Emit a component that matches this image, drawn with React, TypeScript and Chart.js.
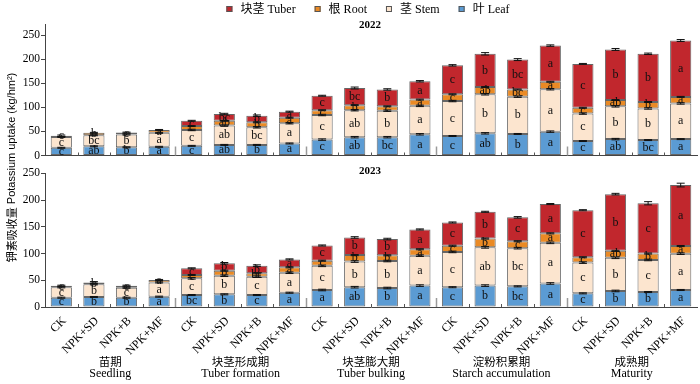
import React, { useEffect, useRef } from 'react';
import { Chart, registerables } from 'chart.js';

Chart.register(...registerables);

// ---------- data ----------
const treatments = ['CK', 'NPK+SD', 'NPK+B', 'NPK+MF'];
const stagesCn = ['苗期', '块茎形成期', '块茎膨大期', '淀粉积累期', '成熟期'];
const stagesEn = ['Seedling', 'Tuber formation', 'Tuber bulking', 'Starch accumulation', 'Maturity'];
const categories = stagesEn.flatMap(() => treatments);
const yTicks = [0, 50, 100, 150, 200, 250];

// 2022
const leaf2022 = [16, 19, 17, 18, 20, 22, 22, 25, 33, 38, 38, 44, 40.5, 46, 44.7, 49.5, 30, 34, 32, 34];
const stem2022 = [22.5, 23, 26.5, 29, 33, 40, 36.5, 42, 51, 56, 55, 59, 72.5, 81, 77.3, 88, 57, 68, 65.6, 74];
const root2022 = [2.5, 5, 4, 6, 8, 10, 10.3, 11.5, 10, 10.5, 9, 13, 14, 15, 15, 15.5, 12, 13, 13.4, 13.6];
const tuber2022 = [0, 0, 0, 0, 11, 14, 13.8, 12.5, 30, 35.5, 35, 38, 60, 69, 62, 75, 91, 105, 100, 117];

// 2023
const leaf2023 = [17.4, 18.7, 17.4, 19.3, 22.4, 23.7, 22.4, 26.7, 31.8, 37, 35.5, 40, 37, 40, 38.6, 44, 25.5, 30, 28, 31.8];
const stem2023 = [19.4, 23.7, 18.6, 26.7, 31.2, 34.8, 34.3, 37.4, 45.2, 48, 50.5, 56, 66, 71.5, 71.4, 76, 57.5, 62, 60, 67.9];
const root2023 = [3, 3.6, 3.8, 4.5, 6.2, 9.4, 6.3, 10.1, 9.6, 12, 10.6, 12, 11.6, 16.5, 13, 17.7, 10, 13, 12, 14.3];
const tuber2023 = [0, 0, 0, 0, 12.5, 13.8, 14.3, 14.8, 28.4, 33, 30.4, 37, 43.4, 50, 44.6, 54.8, 88, 106, 94, 114];

// error bars (SE)
const errLeaf2022 = [1, 1, 1, 1, 1, 1, 1, 1, 1.5, 1.5, 1.5, 1.5, 1, 1.5, 1, 1.5, 1, 1.5, 1, 1];
const errStem2022 = [1, 1, 1, 1, 1.5, 1.5, 1.5, 1.5, 1.5, 1.5, 1.5, 1.5, 1.5, 1.5, 1.5, 1.5, 1.5, 1.5, 1.5, 1.5];
const errRoot2022 = [1.5, 1, 1, 1, 1, 1, 1, 1, 1, 1, 1, 1, 1, 1, 1, 1, 1, 1, 1, 1];
const errTuber2022 = [0, 0, 0, 0, 1, 1.5, 1.5, 1, 1, 2, 1.5, 1.5, 1.5, 2.5, 2, 1.5, 1, 2, 1.5, 2];
const errLeaf2023 = [1, 1, 1, 1, 1, 1, 1, 1, 1.5, 1.5, 1.5, 1.5, 1, 1.5, 1, 1.5, 1, 1.5, 1, 1];
const errStem2023 = [1, 1, 1, 1, 1.5, 1.5, 1.5, 1.5, 1.5, 1.5, 1.5, 1.5, 1.5, 1.5, 1.5, 1.5, 1.5, 1.5, 1.5, 1.5];
const errRoot2023 = [1, 1.5, 1, 1, 1, 1, 1, 1, 1, 1, 1, 1, 1, 1, 1, 1, 1, 1, 1, 1];
const errTuber2023 = [0, 0, 0, 0, 1, 1.5, 1.5, 1, 1, 1.5, 1.5, 1, 1, 1, 1.5, 1, 1, 1.5, 3, 3.5];

// significance letters
const letLeaf2022 = ['c', 'ab', 'b', 'a', 'c', 'ab', 'b', 'a', 'c', 'ab', 'bc', 'a', 'c', 'ab', 'b', 'a', 'c', 'ab', 'bc', 'a'];
const letStem2022 = ['c', 'bc', 'b', 'a', 'c', 'ab', 'bc', 'a', 'c', 'ab', 'b', 'a', 'c', 'b', 'b', 'a', 'c', 'b', 'b', 'a'];
const letRoot2022 = ['c', 'b', 'c', 'a', 'c', 'ab', 'b', 'a', 'c', 'b', 'c', 'a', 'c', 'ab', 'bc', 'a', 'c', 'ab', 'b', 'a'];
const letTuber2022 = ['', '', '', '', 'c', 'bc', 'b', 'a', 'c', 'bc', 'b', 'a', 'c', 'b', 'bc', 'a', 'c', 'b', 'b', 'a'];
const letLeaf2023 = ['c', 'b', 'b', 'a', 'bc', 'b', 'c', 'a', 'a', 'ab', 'b', 'a', 'c', 'b', 'bc', 'a', 'c', 'b', 'b', 'a'];
const letStem2023 = ['c', 'b', 'c', 'a', 'c', 'b', 'c', 'a', 'c', 'b', 'b', 'a', 'c', 'ab', 'bc', 'a', 'c', 'b', 'c', 'a'];
const letRoot2023 = ['c', 'b', 'c', 'a', 'c', 'b', 'bc', 'a', 'c', 'b', 'b', 'a', 'c', 'b', 'c', 'a', 'c', 'ab', 'b', 'a'];
const letTuber2023 = ['', '', '', '', 'c', 'b', 'b', 'a', 'c', 'b', 'b', 'a', 'c', 'b', 'c', 'a', 'c', 'b', 'c', 'a'];

// ---------- style ----------
const C_LEAF = '#5B9BD3';
const C_STEM = '#FCE5CF';
const C_ROOT = '#EA8A25';
const C_TUBER = '#C1272D';
const C_EDGE = '#666666';
const C_AXIS = '#444444';
const SERIF = "'Liberation Serif', 'Times New Roman', 'Noto Sans CJK SC', serif";
const CJK = "'Noto Sans CJK SC', sans-serif";
const SANS = "'Liberation Sans', Arial, sans-serif";

function makeDatasets(leaf: number[], stem: number[], root: number[], tuber: number[]) {
  const base = [
    { label: '叶 Leaf', data: leaf, backgroundColor: C_LEAF },
    { label: '茎 Stem', data: stem, backgroundColor: C_STEM },
    { label: '根 Root', data: root, backgroundColor: C_ROOT },
    { label: '块茎 Tuber', data: tuber, backgroundColor: C_TUBER },
  ];
  return base.map((d) => ({
    ...d,
    borderColor: C_EDGE,
    borderWidth: (c: any) => (c.raw ? 1 : 0),
    borderSkipped: false,
    barPercentage: 0.65,
    categoryPercentage: 1,
  }));
}

function annotPlugin(letters: string[][], errs: number[][], title: string, titleY: number) {
  return {
    id: 'annot',
    afterDraw(chart: any) {
      const ctx = chart.ctx;
      const ys = chart.scales.y;
      const xs = chart.scales.x;
      const ppu = Math.abs(ys.getPixelForValue(0) - ys.getPixelForValue(1));
      ctx.save();
      // inward x ticks
      const baseY = ys.getPixelForValue(0);
      for (let i = 0; i < categories.length - 1; i++) {
        const x = Math.round((xs.getPixelForValue(i) + xs.getPixelForValue(i + 1)) / 2) + 0.5;
        const group = (i + 1) % 4 === 0;
        ctx.strokeStyle = group ? '#9a9a9a' : '#555';
        ctx.lineWidth = group ? 1.5 : 1;
        ctx.beginPath();
        ctx.moveTo(x, baseY);
        ctx.lineTo(x, baseY - (group ? 9 : 3));
        ctx.stroke();
      }
      chart.data.datasets.forEach((ds: any, di: number) => {
        const meta = chart.getDatasetMeta(di);
        meta.data.forEach((el: any, i: number) => {
          const v = ds.data[i];
          if (!v) return;
          // error bar
          const e = errs[di][i] * ppu;
          if (e > 0) {
            ctx.strokeStyle = '#111';
            ctx.lineWidth = 1;
            ctx.beginPath();
            ctx.moveTo(el.x, el.y - e);
            ctx.lineTo(el.x, el.y + e);
            ctx.moveTo(el.x - 4, el.y - e);
            ctx.lineTo(el.x + 4, el.y - e);
            ctx.moveTo(el.x - 4, el.y + e);
            ctx.lineTo(el.x + 4, el.y + e);
            ctx.stroke();
          }
          const txt = letters[di][i];
          if (txt) {
            ctx.fillStyle = '#111';
            ctx.font = `12px ${SERIF}`;
            ctx.textAlign = 'center';
            ctx.textBaseline = 'middle';
            ctx.fillText(txt, el.x, (el.y + el.base) / 2);
          }
        });
      });
      // panel title
      ctx.fillStyle = '#000';
      ctx.font = `bold 11px ${SERIF}`;
      ctx.textAlign = 'center';
      ctx.textBaseline = 'middle';
      ctx.fillText(title, 370, titleY);
      ctx.restore();
    },
  };
}

const legendPlugin = {
  id: 'customLegend',
  afterDraw(chart: any) {
    const ctx = chart.ctx;
    const items = chart.data.datasets.slice().reverse();
    ctx.save();
    ctx.font = `12px ${SERIF}`;
    const box = 6;
    const gapBoxText = 8;
    const gapItems = 19;
    const widths = items.map((d: any) => box + gapBoxText + ctx.measureText(d.label).width);
    const total = widths.reduce((a: number, b: number) => a + b, 0) + gapItems * (items.length - 1);
    let x = 368 - total / 2;
    const y = 9;
    items.forEach((d: any, k: number) => {
      ctx.fillStyle = d.backgroundColor;
      ctx.fillRect(x, y - box / 2, box, box);
      ctx.strokeStyle = '#555';
      ctx.lineWidth = 1;
      ctx.strokeRect(x + 0.5, y - box / 2 + 0.5, box - 1, box - 1);
      ctx.fillStyle = '#000';
      ctx.textAlign = 'left';
      ctx.textBaseline = 'middle';
      ctx.fillText(d.label, x + box + gapBoxText, y + 0.5);
      x += widths[k] + gapItems;
    });
    ctx.restore();
  },
};

const bottomExtras = {
  id: 'bottomExtras',
  afterDraw(chart: any) {
    const ctx = chart.ctx;
    const xs = chart.scales.x;
    ctx.save();
    ctx.fillStyle = '#000';
    ctx.textAlign = 'center';
    ctx.textBaseline = 'middle';
    stagesEn.forEach((en, g) => {
      const cx = (xs.getPixelForValue(g * 4 + 1) + xs.getPixelForValue(g * 4 + 2)) / 2;
      ctx.font = `11.5px ${CJK}`;
      ctx.fillText(stagesCn[g], cx, 361.5);
      ctx.font = `12px ${SERIF}`;
      ctx.fillText(en, cx, 374);
    });
    // y-axis title spanning both panels
    ctx.translate(12, 167.5);
    ctx.rotate(-Math.PI / 2);
    const cn = '钾素吸收量';
    const en = ' Potassium uptake (kg/hm²)';
    ctx.font = `11px ${CJK}`;
    const w1 = ctx.measureText(cn).width;
    ctx.font = `11px ${SANS}`;
    const w2 = ctx.measureText(en).width;
    const x0 = -(w1 + w2) / 2;
    ctx.textAlign = 'left';
    ctx.font = `11px ${CJK}`;
    ctx.fillText(cn, x0, 0);
    ctx.font = `11px ${SANS}`;
    ctx.fillText(en, x0 + w1, 0);
    ctx.restore();
  },
};

function yScale(max: number) {
  return {
    stacked: true,
    min: 0,
    max,
    afterBuildTicks: (s: any) => {
      s.ticks = yTicks.map((v) => ({ value: v }));
    },
    afterFit: (s: any) => {
      s.width = 45;
    },
    ticks: { color: '#000', font: { family: SERIF, size: 11.5 }, padding: 1 },
    grid: { drawOnChartArea: false, tickLength: 4, color: C_AXIS },
    border: { display: true, color: C_AXIS },
  };
}

export default function App() {
  const topRef = useRef<HTMLCanvasElement | null>(null);
  const botRef = useRef<HTMLCanvasElement | null>(null);

  useEffect(() => {
    const top = new Chart(topRef.current as HTMLCanvasElement, {
      type: 'bar',
      data: { labels: categories, datasets: makeDatasets(leaf2022, stem2022, root2022, tuber2022) as any },
      options: {
        responsive: false,
        animation: false,
        layout: { padding: { top: 24.4, right: 3, left: 0, bottom: 0 } },
        plugins: { legend: { display: false }, tooltip: { enabled: false } },
        scales: {
          x: {
            stacked: true,
            grid: { display: false },
            border: { display: true, color: C_AXIS },
            ticks: { display: false },
            afterFit: (s: any) => {
              s.height = 9.5;
            },
          },
          y: yScale(272) as any,
        },
      },
      plugins: [
        annotPlugin(
          [letLeaf2022, letStem2022, letRoot2022, letTuber2022],
          [errLeaf2022, errStem2022, errRoot2022, errTuber2022],
          '2022',
          25.5
        ),
        legendPlugin,
      ],
    });

    const bot = new Chart(botRef.current as HTMLCanvasElement, {
      type: 'bar',
      data: { labels: categories, datasets: makeDatasets(leaf2023, stem2023, root2023, tuber2023) as any },
      options: {
        responsive: false,
        animation: false,
        layout: { padding: { top: 173.3, right: 3, left: 0, bottom: 0 } },
        plugins: { legend: { display: false }, tooltip: { enabled: false } },
        scales: {
          x: {
            stacked: true,
            grid: { display: false },
            border: { display: true, color: C_AXIS },
            ticks: {
              color: '#000',
              font: { family: SERIF, size: 12 },
              minRotation: 45,
              maxRotation: 45,
              autoSkip: false,
              padding: -1,
              labelOffset: 3,
            },
            afterFit: (s: any) => {
              s.height = 77;
            },
          },
          y: yScale(250) as any,
        },
      },
      plugins: [
        annotPlugin(
          [letLeaf2023, letStem2023, letRoot2023, letTuber2023],
          [errLeaf2023, errStem2023, errRoot2023, errTuber2023],
          '2023',
          171
        ),
        bottomExtras,
      ],
    });

    return () => {
      top.destroy();
      bot.destroy();
    };
  }, []);

  return (
    <div style={{ position: 'fixed', left: 0, top: 0, width: 700, height: 384, background: '#fff' }}>
      <canvas ref={botRef} width={700} height={384} style={{ position: 'absolute', left: 0, top: 0 }} />
      <canvas ref={topRef} width={700} height={165} style={{ position: 'absolute', left: 0, top: 0 }} />
    </div>
  );
}
